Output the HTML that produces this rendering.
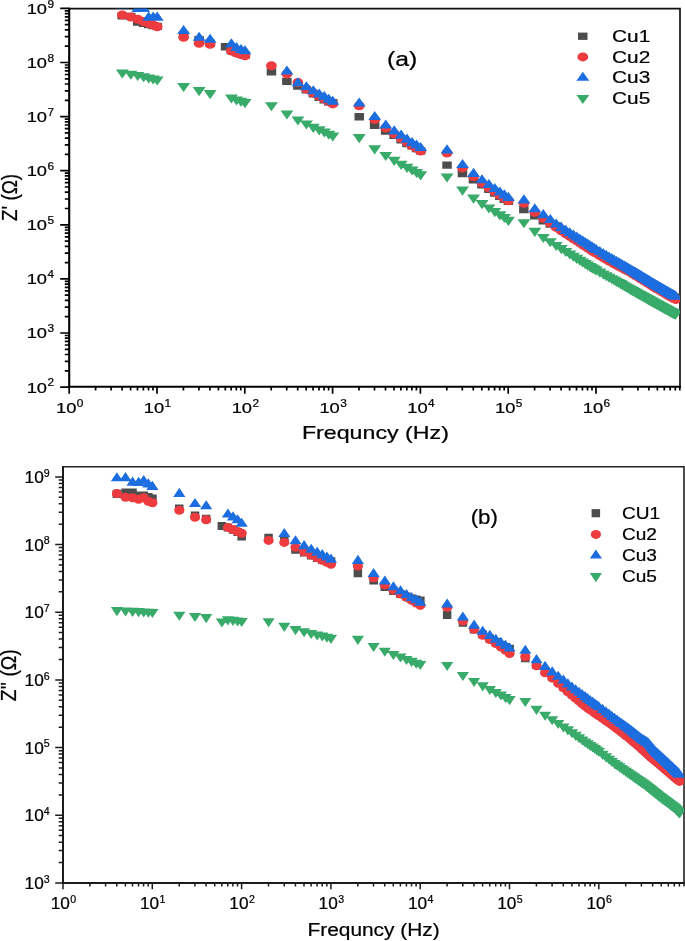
<!DOCTYPE html>
<html><head><meta charset="utf-8"><title>Impedance plots</title>
<style>html,body{margin:0;padding:0;background:#fff}svg{display:block;will-change:transform}text{stroke:#000;stroke-width:0.22px}</style></head>
<body>
<svg width="685" height="941" viewBox="0 0 685 941" font-family="'Liberation Sans', sans-serif" fill="#000">
<rect width="685" height="941" fill="#fff"/>
<defs><clipPath id="ca"><rect x="69.4" y="8.6" width="610.6" height="378.4"/></clipPath><clipPath id="cb"><rect x="63.1" y="466.8" width="620.9" height="416.2"/></clipPath></defs>
<path d="M69.2 8.6H680V386.8" fill="none" stroke="#111" stroke-width="1.7"/>
<g clip-path="url(#ca)">
<path fill="#4d4d4d" d="M117.5 12.2h9.5v7.3h-9.5zM126 12.8h9.5v7.3h-9.5zM133 18.4h9.5v7.3h-9.5zM138.8 19.7h9.5v7.3h-9.5zM143.9 20.9h9.5v7.3h-9.5zM148.4 21.9h9.5v7.3h-9.5zM152.4 22.7h9.5v7.3h-9.5zM178.9 30.9h9.5v7.3h-9.5zM194.3 36h9.5v7.3h-9.5zM205.3 39.4h9.5v7.3h-9.5zM220.8 43.1h9.5v7.3h-9.5zM226.6 46.9h9.5v7.3h-9.5zM231.7 48.9h9.5v7.3h-9.5zM236.2 50.4h9.5v7.3h-9.5zM240.2 51.6h9.5v7.3h-9.5zM266.7 68.3h9.5v7.3h-9.5zM282.1 77.8h9.5v7.3h-9.5zM293.1 82.4h9.5v7.3h-9.5zM301.6 86.3h9.5v7.3h-9.5zM308.6 90.3h9.5v7.3h-9.5zM314.4 93.6h9.5v7.3h-9.5zM319.5 96.3h9.5v7.3h-9.5zM324 98.3h9.5v7.3h-9.5zM328 98.9h9.5v7.3h-9.5zM354.5 113.1h9.5v7.3h-9.5zM369.9 121.6h9.5v7.3h-9.5zM380.9 127.4h9.5v7.3h-9.5zM389.4 131.8h9.5v7.3h-9.5zM396.4 136.2h9.5v7.3h-9.5zM402.2 139.9h9.5v7.3h-9.5zM407.3 142.3h9.5v7.3h-9.5zM411.8 144.9h9.5v7.3h-9.5zM415.9 147.3h9.5v7.3h-9.5zM442.3 161.5h9.5v7.3h-9.5zM457.7 169.9h9.5v7.3h-9.5zM468.7 176.3h9.5v7.3h-9.5zM477.2 181.3h9.5v7.3h-9.5zM484.2 185.8h9.5v7.3h-9.5zM490 189.5h9.5v7.3h-9.5zM495.1 192.8h9.5v7.3h-9.5zM499.6 195.7h9.5v7.3h-9.5zM503.6 197.8h9.5v7.3h-9.5zM519.1 206h9.5v7.3h-9.5zM530.1 212.2h9.5v7.3h-9.5zM538.6 217.1h9.5v7.3h-9.5zM545.5 220.4h9.5v7.3h-9.5zM551.4 222.3h9.5v7.3h-9.5zM556.5 225.7h9.5v7.3h-9.5zM561 228.7h9.5v7.3h-9.5zM565 231.3h9.5v7.3h-9.5zM568.7 233.6h9.5v7.3h-9.5zM572 235.7h9.5v7.3h-9.5zM575 237.7h9.5v7.3h-9.5zM577.8 239.5h9.5v7.3h-9.5zM580.5 241.2h9.5v7.3h-9.5zM582.9 242.9h9.5v7.3h-9.5zM585.3 244.4h9.5v7.3h-9.5zM587.4 245.8h9.5v7.3h-9.5zM589.5 247.1h9.5v7.3h-9.5zM591.4 248.3h9.5v7.3h-9.5zM595.1 250.4h9.5v7.3h-9.5zM598.4 252.4h9.5v7.3h-9.5zM601.5 254.2h9.5v7.3h-9.5zM604.3 255.8h9.5v7.3h-9.5zM606.9 257.2h9.5v7.3h-9.5zM609.4 258.6h9.5v7.3h-9.5zM611.7 259.8h9.5v7.3h-9.5zM613.9 261h9.5v7.3h-9.5zM615.9 262.1h9.5v7.3h-9.5zM617.9 263.1h9.5v7.3h-9.5zM619.7 264.1h9.5v7.3h-9.5zM621.5 265h9.5v7.3h-9.5zM623.2 265.9h9.5v7.3h-9.5zM624.8 266.7h9.5v7.3h-9.5zM626.4 267.7h9.5v7.3h-9.5zM627.9 268.6h9.5v7.3h-9.5zM629.3 269.5h9.5v7.3h-9.5zM630.7 270.3h9.5v7.3h-9.5zM632 271.2h9.5v7.3h-9.5zM633.3 272h9.5v7.3h-9.5zM634.6 272.7h9.5v7.3h-9.5zM635.8 273.5h9.5v7.3h-9.5zM637 274.2h9.5v7.3h-9.5zM638.1 274.9h9.5v7.3h-9.5zM639.2 275.6h9.5v7.3h-9.5zM640.3 276.3h9.5v7.3h-9.5zM641.3 276.9h9.5v7.3h-9.5zM642.4 277.6h9.5v7.3h-9.5zM643.3 278.2h9.5v7.3h-9.5zM644.3 278.8h9.5v7.3h-9.5zM645.3 279.4h9.5v7.3h-9.5zM646.2 279.9h9.5v7.3h-9.5zM647.1 280.5h9.5v7.3h-9.5zM647.9 281h9.5v7.3h-9.5zM648.8 281.6h9.5v7.3h-9.5zM649.6 282.1h9.5v7.3h-9.5zM650.5 282.6h9.5v7.3h-9.5zM651.3 283h9.5v7.3h-9.5zM652 283.5h9.5v7.3h-9.5zM652.8 284h9.5v7.3h-9.5zM653.6 284.4h9.5v7.3h-9.5zM654.3 284.9h9.5v7.3h-9.5zM655 285.3h9.5v7.3h-9.5zM655.8 285.7h9.5v7.3h-9.5zM656.5 286.1h9.5v7.3h-9.5zM657.1 286.5h9.5v7.3h-9.5zM657.8 286.9h9.5v7.3h-9.5zM658.5 287.3h9.5v7.3h-9.5zM659.1 287.7h9.5v7.3h-9.5zM659.8 288.1h9.5v7.3h-9.5zM660.4 288.5h9.5v7.3h-9.5zM661 288.8h9.5v7.3h-9.5zM661.6 289.2h9.5v7.3h-9.5zM662.2 289.6h9.5v7.3h-9.5zM662.8 289.9h9.5v7.3h-9.5zM663.4 290.3h9.5v7.3h-9.5zM664 290.6h9.5v7.3h-9.5zM664.5 290.9h9.5v7.3h-9.5zM665.1 291.3h9.5v7.3h-9.5zM665.6 291.6h9.5v7.3h-9.5zM666.2 291.9h9.5v7.3h-9.5zM666.7 292.2h9.5v7.3h-9.5zM667.2 292.5h9.5v7.3h-9.5zM667.8 292.8h9.5v7.3h-9.5zM668.3 293.1h9.5v7.3h-9.5zM668.8 293.3h9.5v7.3h-9.5zM669.3 293.6h9.5v7.3h-9.5zM669.8 293.9h9.5v7.3h-9.5zM670.3 294.2h9.5v7.3h-9.5zM670.7 294.4h9.5v7.3h-9.5z"/>
<path fill="#ee3b3f" d="M116.9 14.9a5.4 4.5 0 1 0 10.8 0a5.4 4.5 0 1 0 -10.8 0zM125.4 17a5.4 4.5 0 1 0 10.8 0a5.4 4.5 0 1 0 -10.8 0zM132.3 19.3a5.4 4.5 0 1 0 10.8 0a5.4 4.5 0 1 0 -10.8 0zM138.2 21.5a5.4 4.5 0 1 0 10.8 0a5.4 4.5 0 1 0 -10.8 0zM143.3 23.2a5.4 4.5 0 1 0 10.8 0a5.4 4.5 0 1 0 -10.8 0zM147.8 25a5.4 4.5 0 1 0 10.8 0a5.4 4.5 0 1 0 -10.8 0zM151.8 26.7a5.4 4.5 0 1 0 10.8 0a5.4 4.5 0 1 0 -10.8 0zM178.2 37.3a5.4 4.5 0 1 0 10.8 0a5.4 4.5 0 1 0 -10.8 0zM193.7 43.3a5.4 4.5 0 1 0 10.8 0a5.4 4.5 0 1 0 -10.8 0zM204.7 44.3a5.4 4.5 0 1 0 10.8 0a5.4 4.5 0 1 0 -10.8 0zM226 51a5.4 4.5 0 1 0 10.8 0a5.4 4.5 0 1 0 -10.8 0zM231.1 53a5.4 4.5 0 1 0 10.8 0a5.4 4.5 0 1 0 -10.8 0zM235.6 54.5a5.4 4.5 0 1 0 10.8 0a5.4 4.5 0 1 0 -10.8 0zM239.6 55.8a5.4 4.5 0 1 0 10.8 0a5.4 4.5 0 1 0 -10.8 0zM266 65.8a5.4 4.5 0 1 0 10.8 0a5.4 4.5 0 1 0 -10.8 0zM281.5 73.9a5.4 4.5 0 1 0 10.8 0a5.4 4.5 0 1 0 -10.8 0zM292.5 82.5a5.4 4.5 0 1 0 10.8 0a5.4 4.5 0 1 0 -10.8 0zM301 89a5.4 4.5 0 1 0 10.8 0a5.4 4.5 0 1 0 -10.8 0zM307.9 93a5.4 4.5 0 1 0 10.8 0a5.4 4.5 0 1 0 -10.8 0zM313.8 96.3a5.4 4.5 0 1 0 10.8 0a5.4 4.5 0 1 0 -10.8 0zM318.9 99a5.4 4.5 0 1 0 10.8 0a5.4 4.5 0 1 0 -10.8 0zM323.4 101.5a5.4 4.5 0 1 0 10.8 0a5.4 4.5 0 1 0 -10.8 0zM327.4 103.9a5.4 4.5 0 1 0 10.8 0a5.4 4.5 0 1 0 -10.8 0zM353.8 105.7a5.4 4.5 0 1 0 10.8 0a5.4 4.5 0 1 0 -10.8 0zM369.3 119.6a5.4 4.5 0 1 0 10.8 0a5.4 4.5 0 1 0 -10.8 0zM380.3 127.9a5.4 4.5 0 1 0 10.8 0a5.4 4.5 0 1 0 -10.8 0zM388.8 133.8a5.4 4.5 0 1 0 10.8 0a5.4 4.5 0 1 0 -10.8 0zM395.7 138.3a5.4 4.5 0 1 0 10.8 0a5.4 4.5 0 1 0 -10.8 0zM401.6 142.3a5.4 4.5 0 1 0 10.8 0a5.4 4.5 0 1 0 -10.8 0zM406.7 145.7a5.4 4.5 0 1 0 10.8 0a5.4 4.5 0 1 0 -10.8 0zM411.2 148.4a5.4 4.5 0 1 0 10.8 0a5.4 4.5 0 1 0 -10.8 0zM415.2 151a5.4 4.5 0 1 0 10.8 0a5.4 4.5 0 1 0 -10.8 0zM441.6 153a5.4 4.5 0 1 0 10.8 0a5.4 4.5 0 1 0 -10.8 0zM457.1 167.9a5.4 4.5 0 1 0 10.8 0a5.4 4.5 0 1 0 -10.8 0zM468.1 176.6a5.4 4.5 0 1 0 10.8 0a5.4 4.5 0 1 0 -10.8 0zM476.6 183a5.4 4.5 0 1 0 10.8 0a5.4 4.5 0 1 0 -10.8 0zM483.5 187.9a5.4 4.5 0 1 0 10.8 0a5.4 4.5 0 1 0 -10.8 0zM489.4 191.9a5.4 4.5 0 1 0 10.8 0a5.4 4.5 0 1 0 -10.8 0zM494.5 195.3a5.4 4.5 0 1 0 10.8 0a5.4 4.5 0 1 0 -10.8 0zM499 198.3a5.4 4.5 0 1 0 10.8 0a5.4 4.5 0 1 0 -10.8 0zM503 200.8a5.4 4.5 0 1 0 10.8 0a5.4 4.5 0 1 0 -10.8 0zM518.5 203.3a5.4 4.5 0 1 0 10.8 0a5.4 4.5 0 1 0 -10.8 0zM529.4 212.3a5.4 4.5 0 1 0 10.8 0a5.4 4.5 0 1 0 -10.8 0zM537.9 218.2a5.4 4.5 0 1 0 10.8 0a5.4 4.5 0 1 0 -10.8 0zM544.9 223.1a5.4 4.5 0 1 0 10.8 0a5.4 4.5 0 1 0 -10.8 0zM550.8 227.4a5.4 4.5 0 1 0 10.8 0a5.4 4.5 0 1 0 -10.8 0zM555.9 230.9a5.4 4.5 0 1 0 10.8 0a5.4 4.5 0 1 0 -10.8 0zM560.4 233.8a5.4 4.5 0 1 0 10.8 0a5.4 4.5 0 1 0 -10.8 0zM564.4 236.4a5.4 4.5 0 1 0 10.8 0a5.4 4.5 0 1 0 -10.8 0zM568 238.7a5.4 4.5 0 1 0 10.8 0a5.4 4.5 0 1 0 -10.8 0zM571.3 240.8a5.4 4.5 0 1 0 10.8 0a5.4 4.5 0 1 0 -10.8 0zM574.4 242.8a5.4 4.5 0 1 0 10.8 0a5.4 4.5 0 1 0 -10.8 0zM577.2 244.7a5.4 4.5 0 1 0 10.8 0a5.4 4.5 0 1 0 -10.8 0zM579.8 246.4a5.4 4.5 0 1 0 10.8 0a5.4 4.5 0 1 0 -10.8 0zM582.3 248a5.4 4.5 0 1 0 10.8 0a5.4 4.5 0 1 0 -10.8 0zM584.6 249.5a5.4 4.5 0 1 0 10.8 0a5.4 4.5 0 1 0 -10.8 0zM586.8 251a5.4 4.5 0 1 0 10.8 0a5.4 4.5 0 1 0 -10.8 0zM588.8 252.2a5.4 4.5 0 1 0 10.8 0a5.4 4.5 0 1 0 -10.8 0zM590.8 253.4a5.4 4.5 0 1 0 10.8 0a5.4 4.5 0 1 0 -10.8 0zM594.4 255.6a5.4 4.5 0 1 0 10.8 0a5.4 4.5 0 1 0 -10.8 0zM597.8 257.5a5.4 4.5 0 1 0 10.8 0a5.4 4.5 0 1 0 -10.8 0zM600.8 259.4a5.4 4.5 0 1 0 10.8 0a5.4 4.5 0 1 0 -10.8 0zM603.6 261a5.4 4.5 0 1 0 10.8 0a5.4 4.5 0 1 0 -10.8 0zM606.3 262.4a5.4 4.5 0 1 0 10.8 0a5.4 4.5 0 1 0 -10.8 0zM608.7 263.7a5.4 4.5 0 1 0 10.8 0a5.4 4.5 0 1 0 -10.8 0zM611 265a5.4 4.5 0 1 0 10.8 0a5.4 4.5 0 1 0 -10.8 0zM613.2 266.2a5.4 4.5 0 1 0 10.8 0a5.4 4.5 0 1 0 -10.8 0zM615.3 267.3a5.4 4.5 0 1 0 10.8 0a5.4 4.5 0 1 0 -10.8 0zM617.2 268.3a5.4 4.5 0 1 0 10.8 0a5.4 4.5 0 1 0 -10.8 0zM619.1 269.2a5.4 4.5 0 1 0 10.8 0a5.4 4.5 0 1 0 -10.8 0zM620.9 270.2a5.4 4.5 0 1 0 10.8 0a5.4 4.5 0 1 0 -10.8 0zM622.6 271a5.4 4.5 0 1 0 10.8 0a5.4 4.5 0 1 0 -10.8 0zM624.2 271.9a5.4 4.5 0 1 0 10.8 0a5.4 4.5 0 1 0 -10.8 0zM625.7 272.8a5.4 4.5 0 1 0 10.8 0a5.4 4.5 0 1 0 -10.8 0zM627.2 273.7a5.4 4.5 0 1 0 10.8 0a5.4 4.5 0 1 0 -10.8 0zM628.7 274.6a5.4 4.5 0 1 0 10.8 0a5.4 4.5 0 1 0 -10.8 0zM630.1 275.5a5.4 4.5 0 1 0 10.8 0a5.4 4.5 0 1 0 -10.8 0zM631.4 276.3a5.4 4.5 0 1 0 10.8 0a5.4 4.5 0 1 0 -10.8 0zM632.7 277.1a5.4 4.5 0 1 0 10.8 0a5.4 4.5 0 1 0 -10.8 0zM633.9 277.9a5.4 4.5 0 1 0 10.8 0a5.4 4.5 0 1 0 -10.8 0zM635.2 278.7a5.4 4.5 0 1 0 10.8 0a5.4 4.5 0 1 0 -10.8 0zM636.3 279.4a5.4 4.5 0 1 0 10.8 0a5.4 4.5 0 1 0 -10.8 0zM637.5 280.1a5.4 4.5 0 1 0 10.8 0a5.4 4.5 0 1 0 -10.8 0zM638.6 280.8a5.4 4.5 0 1 0 10.8 0a5.4 4.5 0 1 0 -10.8 0zM639.6 281.4a5.4 4.5 0 1 0 10.8 0a5.4 4.5 0 1 0 -10.8 0zM640.7 282.1a5.4 4.5 0 1 0 10.8 0a5.4 4.5 0 1 0 -10.8 0zM641.7 282.7a5.4 4.5 0 1 0 10.8 0a5.4 4.5 0 1 0 -10.8 0zM642.7 283.3a5.4 4.5 0 1 0 10.8 0a5.4 4.5 0 1 0 -10.8 0zM643.7 283.9a5.4 4.5 0 1 0 10.8 0a5.4 4.5 0 1 0 -10.8 0zM644.6 284.5a5.4 4.5 0 1 0 10.8 0a5.4 4.5 0 1 0 -10.8 0zM645.5 285.1a5.4 4.5 0 1 0 10.8 0a5.4 4.5 0 1 0 -10.8 0zM646.4 285.6a5.4 4.5 0 1 0 10.8 0a5.4 4.5 0 1 0 -10.8 0zM647.3 286.2a5.4 4.5 0 1 0 10.8 0a5.4 4.5 0 1 0 -10.8 0zM648.2 286.7a5.4 4.5 0 1 0 10.8 0a5.4 4.5 0 1 0 -10.8 0zM649 287.2a5.4 4.5 0 1 0 10.8 0a5.4 4.5 0 1 0 -10.8 0zM649.8 287.7a5.4 4.5 0 1 0 10.8 0a5.4 4.5 0 1 0 -10.8 0zM650.6 288.2a5.4 4.5 0 1 0 10.8 0a5.4 4.5 0 1 0 -10.8 0zM651.4 288.7a5.4 4.5 0 1 0 10.8 0a5.4 4.5 0 1 0 -10.8 0zM652.2 289.1a5.4 4.5 0 1 0 10.8 0a5.4 4.5 0 1 0 -10.8 0zM652.9 289.6a5.4 4.5 0 1 0 10.8 0a5.4 4.5 0 1 0 -10.8 0zM653.7 290a5.4 4.5 0 1 0 10.8 0a5.4 4.5 0 1 0 -10.8 0zM654.4 290.4a5.4 4.5 0 1 0 10.8 0a5.4 4.5 0 1 0 -10.8 0zM655.1 290.9a5.4 4.5 0 1 0 10.8 0a5.4 4.5 0 1 0 -10.8 0zM655.8 291.3a5.4 4.5 0 1 0 10.8 0a5.4 4.5 0 1 0 -10.8 0zM656.5 291.7a5.4 4.5 0 1 0 10.8 0a5.4 4.5 0 1 0 -10.8 0zM657.2 292.1a5.4 4.5 0 1 0 10.8 0a5.4 4.5 0 1 0 -10.8 0zM657.8 292.5a5.4 4.5 0 1 0 10.8 0a5.4 4.5 0 1 0 -10.8 0zM658.5 292.9a5.4 4.5 0 1 0 10.8 0a5.4 4.5 0 1 0 -10.8 0zM659.1 293.2a5.4 4.5 0 1 0 10.8 0a5.4 4.5 0 1 0 -10.8 0zM659.8 293.6a5.4 4.5 0 1 0 10.8 0a5.4 4.5 0 1 0 -10.8 0zM660.4 294a5.4 4.5 0 1 0 10.8 0a5.4 4.5 0 1 0 -10.8 0zM661 294.4a5.4 4.5 0 1 0 10.8 0a5.4 4.5 0 1 0 -10.8 0zM661.6 294.7a5.4 4.5 0 1 0 10.8 0a5.4 4.5 0 1 0 -10.8 0zM662.2 295.1a5.4 4.5 0 1 0 10.8 0a5.4 4.5 0 1 0 -10.8 0zM662.8 295.4a5.4 4.5 0 1 0 10.8 0a5.4 4.5 0 1 0 -10.8 0zM663.3 295.7a5.4 4.5 0 1 0 10.8 0a5.4 4.5 0 1 0 -10.8 0zM663.9 296.1a5.4 4.5 0 1 0 10.8 0a5.4 4.5 0 1 0 -10.8 0zM664.5 296.4a5.4 4.5 0 1 0 10.8 0a5.4 4.5 0 1 0 -10.8 0zM665 296.7a5.4 4.5 0 1 0 10.8 0a5.4 4.5 0 1 0 -10.8 0zM665.5 297a5.4 4.5 0 1 0 10.8 0a5.4 4.5 0 1 0 -10.8 0zM666.1 297.3a5.4 4.5 0 1 0 10.8 0a5.4 4.5 0 1 0 -10.8 0zM666.6 297.6a5.4 4.5 0 1 0 10.8 0a5.4 4.5 0 1 0 -10.8 0zM667.1 297.9a5.4 4.5 0 1 0 10.8 0a5.4 4.5 0 1 0 -10.8 0zM667.6 298.2a5.4 4.5 0 1 0 10.8 0a5.4 4.5 0 1 0 -10.8 0zM668.1 298.5a5.4 4.5 0 1 0 10.8 0a5.4 4.5 0 1 0 -10.8 0zM668.6 298.8a5.4 4.5 0 1 0 10.8 0a5.4 4.5 0 1 0 -10.8 0zM669.1 299.1a5.4 4.5 0 1 0 10.8 0a5.4 4.5 0 1 0 -10.8 0zM669.6 299.3a5.4 4.5 0 1 0 10.8 0a5.4 4.5 0 1 0 -10.8 0zM670.1 299.6a5.4 4.5 0 1 0 10.8 0a5.4 4.5 0 1 0 -10.8 0z"/>
<path fill="#1c6ee0" d="M122.3 -0.6l6.5 9.1h-12.9zM130.8 -34.5l6.5 9.1h-12.9zM137.7 3l6.5 9.1h-12.9zM143.6 3l6.5 9.1h-12.9zM148.7 11.6l6.5 9.1h-12.9zM153.2 11.6l6.5 9.1h-12.9zM157.2 11.6l6.5 9.1h-12.9zM183.6 24.9l6.5 9.1h-12.9zM199.1 31.7l6.5 9.1h-12.9zM210.1 33.7l6.5 9.1h-12.9zM231.4 38.2l6.5 9.1h-12.9zM236.5 42l6.5 9.1h-12.9zM241 44l6.5 9.1h-12.9zM245 45.2l6.5 9.1h-12.9zM286.9 65.5l6.5 9.1h-12.9zM297.9 77.2l6.5 9.1h-12.9zM306.4 81.2l6.5 9.1h-12.9zM313.3 85.2l6.5 9.1h-12.9zM319.2 88.5l6.5 9.1h-12.9zM324.3 91l6.5 9.1h-12.9zM328.8 93.7l6.5 9.1h-12.9zM332.8 95.7l6.5 9.1h-12.9zM359.2 97.5l6.5 9.1h-12.9zM374.7 111l6.5 9.1h-12.9zM385.7 119.5l6.5 9.1h-12.9zM394.2 125.3l6.5 9.1h-12.9zM401.1 129.6l6.5 9.1h-12.9zM407 133.6l6.5 9.1h-12.9zM412.1 136.9l6.5 9.1h-12.9zM416.6 139.5l6.5 9.1h-12.9zM420.6 141.9l6.5 9.1h-12.9zM447 144.3l6.5 9.1h-12.9zM462.5 158.9l6.5 9.1h-12.9zM473.5 167.8l6.5 9.1h-12.9zM482 174.2l6.5 9.1h-12.9zM488.9 179l6.5 9.1h-12.9zM494.8 183l6.5 9.1h-12.9zM499.9 186.4l6.5 9.1h-12.9zM504.4 189.3l6.5 9.1h-12.9zM508.4 191.8l6.5 9.1h-12.9zM523.9 194.3l6.5 9.1h-12.9zM534.8 203.2l6.5 9.1h-12.9zM543.3 209.1l6.5 9.1h-12.9zM550.3 214l6.5 9.1h-12.9zM556.2 218.4l6.5 9.1h-12.9zM561.3 221.8l6.5 9.1h-12.9zM565.8 224.8l6.5 9.1h-12.9zM569.8 227.2l6.5 9.1h-12.9zM573.4 229.5l6.5 9.1h-12.9zM576.7 231.5l6.5 9.1h-12.9zM579.8 233.4l6.5 9.1h-12.9zM582.6 235.3l6.5 9.1h-12.9zM585.2 236.9l6.5 9.1h-12.9zM587.7 238.5l6.5 9.1h-12.9zM590 240l6.5 9.1h-12.9zM592.2 241.4l6.5 9.1h-12.9zM594.2 242.7l6.5 9.1h-12.9zM596.2 243.9l6.5 9.1h-12.9zM599.8 246l6.5 9.1h-12.9zM603.2 248l6.5 9.1h-12.9zM606.2 249.8l6.5 9.1h-12.9zM609 251.5l6.5 9.1h-12.9zM611.7 253l6.5 9.1h-12.9zM614.1 254.4l6.5 9.1h-12.9zM616.4 255.8l6.5 9.1h-12.9zM618.6 257l6.5 9.1h-12.9zM620.7 258.2l6.5 9.1h-12.9zM622.6 259.4l6.5 9.1h-12.9zM624.5 260.5l6.5 9.1h-12.9zM626.3 261.5l6.5 9.1h-12.9zM628 262.5l6.5 9.1h-12.9zM629.6 263.5l6.5 9.1h-12.9zM631.1 264.4l6.5 9.1h-12.9zM632.6 265.3l6.5 9.1h-12.9zM634.1 266.2l6.5 9.1h-12.9zM635.5 267l6.5 9.1h-12.9zM636.8 267.9l6.5 9.1h-12.9zM638.1 268.6l6.5 9.1h-12.9zM639.3 269.4l6.5 9.1h-12.9zM640.6 270.1l6.5 9.1h-12.9zM641.7 270.8l6.5 9.1h-12.9zM642.9 271.5l6.5 9.1h-12.9zM644 272.2l6.5 9.1h-12.9zM645 272.8l6.5 9.1h-12.9zM646.1 273.5l6.5 9.1h-12.9zM647.1 274.1l6.5 9.1h-12.9zM648.1 274.7l6.5 9.1h-12.9zM649.1 275.3l6.5 9.1h-12.9zM650 275.8l6.5 9.1h-12.9zM650.9 276.4l6.5 9.1h-12.9zM651.8 276.9l6.5 9.1h-12.9zM652.7 277.5l6.5 9.1h-12.9zM653.6 278l6.5 9.1h-12.9zM654.4 278.5l6.5 9.1h-12.9zM655.2 279l6.5 9.1h-12.9zM656 279.4l6.5 9.1h-12.9zM656.8 279.9l6.5 9.1h-12.9zM657.6 280.3l6.5 9.1h-12.9zM658.3 280.8l6.5 9.1h-12.9zM659.1 281.2l6.5 9.1h-12.9zM659.8 281.7l6.5 9.1h-12.9zM660.5 282.1l6.5 9.1h-12.9zM661.2 282.5l6.5 9.1h-12.9zM661.9 282.9l6.5 9.1h-12.9zM662.6 283.3l6.5 9.1h-12.9zM663.2 283.7l6.5 9.1h-12.9zM663.9 284.1l6.5 9.1h-12.9zM664.5 284.4l6.5 9.1h-12.9zM665.2 284.8l6.5 9.1h-12.9zM665.8 285.2l6.5 9.1h-12.9zM666.4 285.5l6.5 9.1h-12.9zM667 285.9l6.5 9.1h-12.9zM667.6 286.2l6.5 9.1h-12.9zM668.2 286.6l6.5 9.1h-12.9zM668.7 286.9l6.5 9.1h-12.9zM669.3 287.2l6.5 9.1h-12.9zM669.9 287.6l6.5 9.1h-12.9zM670.4 287.9l6.5 9.1h-12.9zM670.9 288.2l6.5 9.1h-12.9zM671.5 288.5l6.5 9.1h-12.9zM672 288.7l6.5 9.1h-12.9zM672.5 289l6.5 9.1h-12.9zM673 289.3l6.5 9.1h-12.9zM673.5 289.6l6.5 9.1h-12.9zM674 289.9l6.5 9.1h-12.9zM674.5 290.1l6.5 9.1h-12.9zM675 290.4l6.5 9.1h-12.9zM675.5 290.6l6.5 9.1h-12.9z"/>
<path fill="#38aa6a" d="M122.3 78.5l6.5 -9.1h-12.9zM130.8 79.8l6.5 -9.1h-12.9zM137.7 81.1l6.5 -9.1h-12.9zM143.6 82.3l6.5 -9.1h-12.9zM148.7 83.5l6.5 -9.1h-12.9zM153.2 84.5l6.5 -9.1h-12.9zM157.2 85.5l6.5 -9.1h-12.9zM183.6 92.1l6.5 -9.1h-12.9zM199.1 96.2l6.5 -9.1h-12.9zM210.1 99.2l6.5 -9.1h-12.9zM231.4 103.6l6.5 -9.1h-12.9zM236.5 105.5l6.5 -9.1h-12.9zM241 106.8l6.5 -9.1h-12.9zM245 108.2l6.5 -9.1h-12.9zM271.4 111.3l6.5 -9.1h-12.9zM286.9 119.6l6.5 -9.1h-12.9zM297.9 125.5l6.5 -9.1h-12.9zM306.4 129.6l6.5 -9.1h-12.9zM313.3 132.9l6.5 -9.1h-12.9zM319.2 135.4l6.5 -9.1h-12.9zM324.3 137.6l6.5 -9.1h-12.9zM328.8 139.8l6.5 -9.1h-12.9zM332.8 141.6l6.5 -9.1h-12.9zM359.2 143.2l6.5 -9.1h-12.9zM374.7 154.4l6.5 -9.1h-12.9zM385.7 161.1l6.5 -9.1h-12.9zM394.2 165.9l6.5 -9.1h-12.9zM401.1 169.9l6.5 -9.1h-12.9zM407 172.9l6.5 -9.1h-12.9zM412.1 175.6l6.5 -9.1h-12.9zM416.6 178l6.5 -9.1h-12.9zM420.6 180.4l6.5 -9.1h-12.9zM447 182.5l6.5 -9.1h-12.9zM462.5 195.7l6.5 -9.1h-12.9zM473.5 203.7l6.5 -9.1h-12.9zM482 209.2l6.5 -9.1h-12.9zM488.9 213.6l6.5 -9.1h-12.9zM494.8 217.2l6.5 -9.1h-12.9zM499.9 220.4l6.5 -9.1h-12.9zM504.4 223.1l6.5 -9.1h-12.9zM508.4 225.9l6.5 -9.1h-12.9zM523.9 228.3l6.5 -9.1h-12.9zM534.8 236.9l6.5 -9.1h-12.9zM543.3 243l6.5 -9.1h-12.9zM550.3 247.3l6.5 -9.1h-12.9zM556.2 251l6.5 -9.1h-12.9zM561.3 254.2l6.5 -9.1h-12.9zM565.8 257.1l6.5 -9.1h-12.9zM569.8 259.6l6.5 -9.1h-12.9zM573.4 261.8l6.5 -9.1h-12.9zM576.7 263.9l6.5 -9.1h-12.9zM579.8 265.8l6.5 -9.1h-12.9zM582.6 267.5l6.5 -9.1h-12.9zM585.2 269.2l6.5 -9.1h-12.9zM587.7 270.7l6.5 -9.1h-12.9zM590 272.1l6.5 -9.1h-12.9zM592.2 273.4l6.5 -9.1h-12.9zM594.2 274.6l6.5 -9.1h-12.9zM596.2 275.7l6.5 -9.1h-12.9zM599.8 277.7l6.5 -9.1h-12.9zM603.2 279.6l6.5 -9.1h-12.9zM606.2 281.3l6.5 -9.1h-12.9zM609 282.8l6.5 -9.1h-12.9zM611.7 284.3l6.5 -9.1h-12.9zM614.1 285.6l6.5 -9.1h-12.9zM616.4 286.9l6.5 -9.1h-12.9zM618.6 288.1l6.5 -9.1h-12.9zM620.7 289.2l6.5 -9.1h-12.9zM622.6 290.4l6.5 -9.1h-12.9zM624.5 291.5l6.5 -9.1h-12.9zM626.3 292.5l6.5 -9.1h-12.9zM628 293.5l6.5 -9.1h-12.9zM629.6 294.5l6.5 -9.1h-12.9zM631.1 295.4l6.5 -9.1h-12.9zM632.6 296.2l6.5 -9.1h-12.9zM634.1 297l6.5 -9.1h-12.9zM635.5 297.8l6.5 -9.1h-12.9zM636.8 298.5l6.5 -9.1h-12.9zM638.1 299.3l6.5 -9.1h-12.9zM639.3 300l6.5 -9.1h-12.9zM640.6 300.6l6.5 -9.1h-12.9zM641.7 301.3l6.5 -9.1h-12.9zM642.9 301.9l6.5 -9.1h-12.9zM644 302.5l6.5 -9.1h-12.9zM645 303.1l6.5 -9.1h-12.9zM646.1 303.7l6.5 -9.1h-12.9zM647.1 304.3l6.5 -9.1h-12.9zM648.1 304.9l6.5 -9.1h-12.9zM649.1 305.4l6.5 -9.1h-12.9zM650 305.9l6.5 -9.1h-12.9zM650.9 306.4l6.5 -9.1h-12.9zM651.8 306.9l6.5 -9.1h-12.9zM652.7 307.4l6.5 -9.1h-12.9zM653.6 307.9l6.5 -9.1h-12.9zM654.4 308.4l6.5 -9.1h-12.9zM655.2 308.8l6.5 -9.1h-12.9zM656 309.2l6.5 -9.1h-12.9zM656.8 309.7l6.5 -9.1h-12.9zM657.6 310.1l6.5 -9.1h-12.9zM658.3 310.5l6.5 -9.1h-12.9zM659.1 310.9l6.5 -9.1h-12.9zM659.8 311.3l6.5 -9.1h-12.9zM660.5 311.7l6.5 -9.1h-12.9zM661.2 312.1l6.5 -9.1h-12.9zM661.9 312.4l6.5 -9.1h-12.9zM662.6 312.8l6.5 -9.1h-12.9zM663.2 313.2l6.5 -9.1h-12.9zM663.9 313.5l6.5 -9.1h-12.9zM664.5 313.9l6.5 -9.1h-12.9zM665.2 314.2l6.5 -9.1h-12.9zM665.8 314.6l6.5 -9.1h-12.9zM666.4 314.9l6.5 -9.1h-12.9zM667 315.2l6.5 -9.1h-12.9zM667.6 315.5l6.5 -9.1h-12.9zM668.2 315.9l6.5 -9.1h-12.9zM668.7 316.2l6.5 -9.1h-12.9zM669.3 316.5l6.5 -9.1h-12.9zM669.9 316.8l6.5 -9.1h-12.9zM670.4 317.1l6.5 -9.1h-12.9zM670.9 317.4l6.5 -9.1h-12.9zM671.5 317.7l6.5 -9.1h-12.9zM672 317.9l6.5 -9.1h-12.9zM672.5 318.2l6.5 -9.1h-12.9zM673 318.5l6.5 -9.1h-12.9zM673.5 318.8l6.5 -9.1h-12.9zM674 319.1l6.5 -9.1h-12.9zM674.5 319.3l6.5 -9.1h-12.9zM675 319.6l6.5 -9.1h-12.9zM675.5 319.8l6.5 -9.1h-12.9z"/>
</g>
<path d="M69.2 7.8V386.8H681" fill="none" stroke="#000" stroke-width="2.1"/>
<path d="M69.2 387.1h-9M69.2 370.8h-4.4M69.2 361.3h-4.4M69.2 354.5h-4.4M69.2 349.3h-4.4M69.2 345h-4.4M69.2 341.4h-4.4M69.2 338.2h-4.4M69.2 335.5h-4.4M69.2 333h-9M69.2 316.7h-4.4M69.2 307.2h-4.4M69.2 300.4h-4.4M69.2 295.2h-4.4M69.2 290.9h-4.4M69.2 287.3h-4.4M69.2 284.1h-4.4M69.2 281.4h-4.4M69.2 278.9h-9M69.2 262.6h-4.4M69.2 253.1h-4.4M69.2 246.3h-4.4M69.2 241.1h-4.4M69.2 236.8h-4.4M69.2 233.2h-4.4M69.2 230h-4.4M69.2 227.3h-4.4M69.2 224.8h-9M69.2 208.5h-4.4M69.2 199h-4.4M69.2 192.2h-4.4M69.2 187h-4.4M69.2 182.7h-4.4M69.2 179.1h-4.4M69.2 175.9h-4.4M69.2 173.2h-4.4M69.2 170.7h-9M69.2 154.4h-4.4M69.2 144.9h-4.4M69.2 138.1h-4.4M69.2 132.9h-4.4M69.2 128.6h-4.4M69.2 125h-4.4M69.2 121.8h-4.4M69.2 119.1h-4.4M69.2 116.6h-9M69.2 100.3h-4.4M69.2 90.8h-4.4M69.2 84h-4.4M69.2 78.8h-4.4M69.2 74.5h-4.4M69.2 70.9h-4.4M69.2 67.7h-4.4M69.2 65h-4.4M69.2 62.5h-9M69.2 46.2h-4.4M69.2 36.7h-4.4M69.2 29.9h-4.4M69.2 24.7h-4.4M69.2 20.4h-4.4M69.2 16.8h-4.4M69.2 13.6h-4.4M69.2 10.9h-4.4M69.2 8.4h-9M69.2 386.8v7M95.6 386.8v3.6M111.1 386.8v3.6M122.1 386.8v3.6M130.6 386.8v3.6M137.5 386.8v3.6M143.4 386.8v3.6M148.5 386.8v3.6M153 386.8v3.6M157 386.8v7M183.4 386.8v3.6M198.9 386.8v3.6M209.9 386.8v3.6M218.4 386.8v3.6M225.3 386.8v3.6M231.2 386.8v3.6M236.3 386.8v3.6M240.8 386.8v3.6M244.8 386.8v7M271.2 386.8v3.6M286.7 386.8v3.6M297.7 386.8v3.6M306.2 386.8v3.6M313.1 386.8v3.6M319 386.8v3.6M324.1 386.8v3.6M328.6 386.8v3.6M332.6 386.8v7M359 386.8v3.6M374.5 386.8v3.6M385.5 386.8v3.6M394 386.8v3.6M400.9 386.8v3.6M406.8 386.8v3.6M411.9 386.8v3.6M416.4 386.8v3.6M420.4 386.8v7M446.8 386.8v3.6M462.3 386.8v3.6M473.3 386.8v3.6M481.8 386.8v3.6M488.7 386.8v3.6M494.6 386.8v3.6M499.7 386.8v3.6M504.2 386.8v3.6M508.2 386.8v7M534.6 386.8v3.6M550.1 386.8v3.6M561.1 386.8v3.6M569.6 386.8v3.6M576.5 386.8v3.6M582.4 386.8v3.6M587.5 386.8v3.6M592 386.8v3.6M596 386.8v7M622.4 386.8v3.6M637.9 386.8v3.6M648.9 386.8v3.6M657.4 386.8v3.6M664.3 386.8v3.6M670.2 386.8v3.6M675.3 386.8v3.6M679.8 386.8v3.6" fill="none" stroke="#000" stroke-width="1.7"/>
<path d="M63 466.8H684V882.9" fill="none" stroke="#222" stroke-width="1.6"/>
<g clip-path="url(#cb)">
<path fill="#4d4d4d" d="M112.6 489.7h8.5v8.2h-8.5zM121.3 488.5h8.5v8.2h-8.5zM128.3 488.5h8.5v8.2h-8.5zM134.3 491.6h8.5v8.2h-8.5zM139.5 491.6h8.5v8.2h-8.5zM144.1 492.9h8.5v8.2h-8.5zM148.2 494.6h8.5v8.2h-8.5zM175 504.5h8.5v8.2h-8.5zM190.8 511.5h8.5v8.2h-8.5zM201.9 514.7h8.5v8.2h-8.5zM217.6 521.9h8.5v8.2h-8.5zM223.6 523.4h8.5v8.2h-8.5zM228.8 525.5h8.5v8.2h-8.5zM233.4 527.9h8.5v8.2h-8.5zM237.4 532.4h8.5v8.2h-8.5zM264.3 533.8h8.5v8.2h-8.5zM280.1 535.9h8.5v8.2h-8.5zM291.2 545.6h8.5v8.2h-8.5zM299.9 548.4h8.5v8.2h-8.5zM306.9 551.4h8.5v8.2h-8.5zM312.9 553.9h8.5v8.2h-8.5zM318.1 555.9h8.5v8.2h-8.5zM322.7 556.9h8.5v8.2h-8.5zM326.8 557.2h8.5v8.2h-8.5zM353.6 569h8.5v8.2h-8.5zM369.4 576.3h8.5v8.2h-8.5zM380.5 582.9h8.5v8.2h-8.5zM389.2 586.9h8.5v8.2h-8.5zM396.2 589.9h8.5v8.2h-8.5zM402.2 592.4h8.5v8.2h-8.5zM407.4 594.4h8.5v8.2h-8.5zM412 595.4h8.5v8.2h-8.5zM416.1 596.4h8.5v8.2h-8.5zM442.9 610.8h8.5v8.2h-8.5zM458.7 618.5h8.5v8.2h-8.5zM469.8 625.4h8.5v8.2h-8.5zM478.5 630.4h8.5v8.2h-8.5zM485.5 634.4h8.5v8.2h-8.5zM491.5 637.9h8.5v8.2h-8.5zM496.7 640.9h8.5v8.2h-8.5zM501.3 643.1h8.5v8.2h-8.5zM505.4 644.7h8.5v8.2h-8.5zM521.1 654h8.5v8.2h-8.5zM532.2 660.9h8.5v8.2h-8.5zM540.9 667.1h8.5v8.2h-8.5zM548 672.5h8.5v8.2h-8.5zM553.9 677.7h8.5v8.2h-8.5zM559.1 682.3h8.5v8.2h-8.5zM563.7 686.3h8.5v8.2h-8.5zM567.8 689.7h8.5v8.2h-8.5zM571.5 692.7h8.5v8.2h-8.5zM574.8 695.5h8.5v8.2h-8.5zM577.9 698.1h8.5v8.2h-8.5zM580.8 700.4h8.5v8.2h-8.5zM583.5 702.4h8.5v8.2h-8.5zM586 704.1h8.5v8.2h-8.5zM588.3 705.8h8.5v8.2h-8.5zM590.6 707.4h8.5v8.2h-8.5zM592.7 708.9h8.5v8.2h-8.5zM594.6 710.3h8.5v8.2h-8.5zM598.3 712.8h8.5v8.2h-8.5zM601.7 715.1h8.5v8.2h-8.5zM604.8 717.3h8.5v8.2h-8.5zM607.7 719.3h8.5v8.2h-8.5zM610.4 721.3h8.5v8.2h-8.5zM612.9 723.2h8.5v8.2h-8.5zM615.2 725h8.5v8.2h-8.5zM617.4 726.7h8.5v8.2h-8.5zM619.5 728.3h8.5v8.2h-8.5zM621.5 729.9h8.5v8.2h-8.5zM623.4 731.3h8.5v8.2h-8.5zM625.2 732.7h8.5v8.2h-8.5zM627 734.2h8.5v8.2h-8.5zM628.6 735.6h8.5v8.2h-8.5zM630.2 736.9h8.5v8.2h-8.5zM631.7 738.2h8.5v8.2h-8.5zM633.2 739.4h8.5v8.2h-8.5zM634.6 740.6h8.5v8.2h-8.5zM635.9 741.8h8.5v8.2h-8.5zM637.3 743h8.5v8.2h-8.5zM638.5 744.2h8.5v8.2h-8.5zM639.8 745.3h8.5v8.2h-8.5zM641 746.5h8.5v8.2h-8.5zM642.1 747.5h8.5v8.2h-8.5zM643.2 748.5h8.5v8.2h-8.5zM644.3 749.5h8.5v8.2h-8.5zM645.4 750.5h8.5v8.2h-8.5zM646.4 751.4h8.5v8.2h-8.5zM647.4 752.3h8.5v8.2h-8.5zM648.4 753.1h8.5v8.2h-8.5zM649.4 753.9h8.5v8.2h-8.5zM650.3 754.7h8.5v8.2h-8.5zM651.2 755.4h8.5v8.2h-8.5zM652.1 756.1h8.5v8.2h-8.5zM653 756.8h8.5v8.2h-8.5zM653.8 757.5h8.5v8.2h-8.5zM654.7 758.2h8.5v8.2h-8.5zM655.5 758.9h8.5v8.2h-8.5zM656.3 759.6h8.5v8.2h-8.5zM657.1 760.2h8.5v8.2h-8.5zM657.8 760.9h8.5v8.2h-8.5zM658.6 761.5h8.5v8.2h-8.5zM659.3 762.2h8.5v8.2h-8.5zM660.1 762.8h8.5v8.2h-8.5zM660.8 763.4h8.5v8.2h-8.5zM661.5 764h8.5v8.2h-8.5zM662.1 764.6h8.5v8.2h-8.5zM662.8 765.1h8.5v8.2h-8.5zM663.5 765.7h8.5v8.2h-8.5zM664.1 766.3h8.5v8.2h-8.5zM664.8 766.8h8.5v8.2h-8.5zM665.4 767.3h8.5v8.2h-8.5zM666 767.9h8.5v8.2h-8.5zM666.6 768.4h8.5v8.2h-8.5zM667.2 768.9h8.5v8.2h-8.5zM667.8 769.4h8.5v8.2h-8.5zM668.4 769.9h8.5v8.2h-8.5zM669 770.4h8.5v8.2h-8.5zM669.6 770.9h8.5v8.2h-8.5zM670.1 771.4h8.5v8.2h-8.5zM670.7 771.8h8.5v8.2h-8.5zM671.2 772.3h8.5v8.2h-8.5zM671.7 772.7h8.5v8.2h-8.5zM672.3 773.2h8.5v8.2h-8.5zM672.8 773.6h8.5v8.2h-8.5zM673.3 774.1h8.5v8.2h-8.5zM673.8 774.5h8.5v8.2h-8.5zM674.3 774.9h8.5v8.2h-8.5zM674.8 775.3h8.5v8.2h-8.5zM675.3 775.8h8.5v8.2h-8.5z"/>
<path fill="#ee3b3f" d="M111.8 493.6a5.1 4.5 0 1 0 10.2 0a5.1 4.5 0 1 0 -10.2 0zM120.4 497.2a5.1 4.5 0 1 0 10.2 0a5.1 4.5 0 1 0 -10.2 0zM127.5 497.7a5.1 4.5 0 1 0 10.2 0a5.1 4.5 0 1 0 -10.2 0zM133.5 499.2a5.1 4.5 0 1 0 10.2 0a5.1 4.5 0 1 0 -10.2 0zM138.6 497.7a5.1 4.5 0 1 0 10.2 0a5.1 4.5 0 1 0 -10.2 0zM143.2 501.3a5.1 4.5 0 1 0 10.2 0a5.1 4.5 0 1 0 -10.2 0zM147.3 502.8a5.1 4.5 0 1 0 10.2 0a5.1 4.5 0 1 0 -10.2 0zM174.2 510.2a5.1 4.5 0 1 0 10.2 0a5.1 4.5 0 1 0 -10.2 0zM189.9 517.2a5.1 4.5 0 1 0 10.2 0a5.1 4.5 0 1 0 -10.2 0zM201.1 519.7a5.1 4.5 0 1 0 10.2 0a5.1 4.5 0 1 0 -10.2 0zM222.8 527.4a5.1 4.5 0 1 0 10.2 0a5.1 4.5 0 1 0 -10.2 0zM227.9 529.5a5.1 4.5 0 1 0 10.2 0a5.1 4.5 0 1 0 -10.2 0zM232.5 531.5a5.1 4.5 0 1 0 10.2 0a5.1 4.5 0 1 0 -10.2 0zM236.6 533.3a5.1 4.5 0 1 0 10.2 0a5.1 4.5 0 1 0 -10.2 0zM263.5 540.4a5.1 4.5 0 1 0 10.2 0a5.1 4.5 0 1 0 -10.2 0zM279.2 542.4a5.1 4.5 0 1 0 10.2 0a5.1 4.5 0 1 0 -10.2 0zM290.4 547.2a5.1 4.5 0 1 0 10.2 0a5.1 4.5 0 1 0 -10.2 0zM299 551.8a5.1 4.5 0 1 0 10.2 0a5.1 4.5 0 1 0 -10.2 0zM306.1 555a5.1 4.5 0 1 0 10.2 0a5.1 4.5 0 1 0 -10.2 0zM312.1 557.8a5.1 4.5 0 1 0 10.2 0a5.1 4.5 0 1 0 -10.2 0zM317.2 560.2a5.1 4.5 0 1 0 10.2 0a5.1 4.5 0 1 0 -10.2 0zM321.8 562.3a5.1 4.5 0 1 0 10.2 0a5.1 4.5 0 1 0 -10.2 0zM325.9 564.2a5.1 4.5 0 1 0 10.2 0a5.1 4.5 0 1 0 -10.2 0zM352.8 566a5.1 4.5 0 1 0 10.2 0a5.1 4.5 0 1 0 -10.2 0zM368.5 577.7a5.1 4.5 0 1 0 10.2 0a5.1 4.5 0 1 0 -10.2 0zM379.7 585a5.1 4.5 0 1 0 10.2 0a5.1 4.5 0 1 0 -10.2 0zM388.3 590a5.1 4.5 0 1 0 10.2 0a5.1 4.5 0 1 0 -10.2 0zM395.4 594a5.1 4.5 0 1 0 10.2 0a5.1 4.5 0 1 0 -10.2 0zM401.4 597.4a5.1 4.5 0 1 0 10.2 0a5.1 4.5 0 1 0 -10.2 0zM406.5 600.4a5.1 4.5 0 1 0 10.2 0a5.1 4.5 0 1 0 -10.2 0zM411.1 603a5.1 4.5 0 1 0 10.2 0a5.1 4.5 0 1 0 -10.2 0zM415.2 605.4a5.1 4.5 0 1 0 10.2 0a5.1 4.5 0 1 0 -10.2 0zM442.1 607.4a5.1 4.5 0 1 0 10.2 0a5.1 4.5 0 1 0 -10.2 0zM457.8 621a5.1 4.5 0 1 0 10.2 0a5.1 4.5 0 1 0 -10.2 0zM469 629.3a5.1 4.5 0 1 0 10.2 0a5.1 4.5 0 1 0 -10.2 0zM477.6 635.2a5.1 4.5 0 1 0 10.2 0a5.1 4.5 0 1 0 -10.2 0zM484.7 639.5a5.1 4.5 0 1 0 10.2 0a5.1 4.5 0 1 0 -10.2 0zM490.7 643.5a5.1 4.5 0 1 0 10.2 0a5.1 4.5 0 1 0 -10.2 0zM495.8 647a5.1 4.5 0 1 0 10.2 0a5.1 4.5 0 1 0 -10.2 0zM500.4 650.3a5.1 4.5 0 1 0 10.2 0a5.1 4.5 0 1 0 -10.2 0zM504.5 653.5a5.1 4.5 0 1 0 10.2 0a5.1 4.5 0 1 0 -10.2 0zM520.2 656.8a5.1 4.5 0 1 0 10.2 0a5.1 4.5 0 1 0 -10.2 0zM531.4 665.8a5.1 4.5 0 1 0 10.2 0a5.1 4.5 0 1 0 -10.2 0zM540 672.7a5.1 4.5 0 1 0 10.2 0a5.1 4.5 0 1 0 -10.2 0zM547.1 678.1a5.1 4.5 0 1 0 10.2 0a5.1 4.5 0 1 0 -10.2 0zM553.1 683.3a5.1 4.5 0 1 0 10.2 0a5.1 4.5 0 1 0 -10.2 0zM558.3 687.9a5.1 4.5 0 1 0 10.2 0a5.1 4.5 0 1 0 -10.2 0zM562.8 691.9a5.1 4.5 0 1 0 10.2 0a5.1 4.5 0 1 0 -10.2 0zM566.9 695.3a5.1 4.5 0 1 0 10.2 0a5.1 4.5 0 1 0 -10.2 0zM570.6 698.3a5.1 4.5 0 1 0 10.2 0a5.1 4.5 0 1 0 -10.2 0zM574 701.1a5.1 4.5 0 1 0 10.2 0a5.1 4.5 0 1 0 -10.2 0zM577.1 703.7a5.1 4.5 0 1 0 10.2 0a5.1 4.5 0 1 0 -10.2 0zM580 706a5.1 4.5 0 1 0 10.2 0a5.1 4.5 0 1 0 -10.2 0zM582.6 708a5.1 4.5 0 1 0 10.2 0a5.1 4.5 0 1 0 -10.2 0zM585.1 709.7a5.1 4.5 0 1 0 10.2 0a5.1 4.5 0 1 0 -10.2 0zM587.5 711.4a5.1 4.5 0 1 0 10.2 0a5.1 4.5 0 1 0 -10.2 0zM589.7 713a5.1 4.5 0 1 0 10.2 0a5.1 4.5 0 1 0 -10.2 0zM591.8 714.5a5.1 4.5 0 1 0 10.2 0a5.1 4.5 0 1 0 -10.2 0zM593.8 715.9a5.1 4.5 0 1 0 10.2 0a5.1 4.5 0 1 0 -10.2 0zM597.5 718.4a5.1 4.5 0 1 0 10.2 0a5.1 4.5 0 1 0 -10.2 0zM600.9 720.7a5.1 4.5 0 1 0 10.2 0a5.1 4.5 0 1 0 -10.2 0zM604 722.9a5.1 4.5 0 1 0 10.2 0a5.1 4.5 0 1 0 -10.2 0zM606.8 724.9a5.1 4.5 0 1 0 10.2 0a5.1 4.5 0 1 0 -10.2 0zM609.5 726.9a5.1 4.5 0 1 0 10.2 0a5.1 4.5 0 1 0 -10.2 0zM612 728.8a5.1 4.5 0 1 0 10.2 0a5.1 4.5 0 1 0 -10.2 0zM614.4 730.6a5.1 4.5 0 1 0 10.2 0a5.1 4.5 0 1 0 -10.2 0zM616.6 732.3a5.1 4.5 0 1 0 10.2 0a5.1 4.5 0 1 0 -10.2 0zM618.7 733.9a5.1 4.5 0 1 0 10.2 0a5.1 4.5 0 1 0 -10.2 0zM620.7 735.5a5.1 4.5 0 1 0 10.2 0a5.1 4.5 0 1 0 -10.2 0zM622.6 736.9a5.1 4.5 0 1 0 10.2 0a5.1 4.5 0 1 0 -10.2 0zM624.4 738.3a5.1 4.5 0 1 0 10.2 0a5.1 4.5 0 1 0 -10.2 0zM626.1 739.8a5.1 4.5 0 1 0 10.2 0a5.1 4.5 0 1 0 -10.2 0zM627.8 741.2a5.1 4.5 0 1 0 10.2 0a5.1 4.5 0 1 0 -10.2 0zM629.3 742.5a5.1 4.5 0 1 0 10.2 0a5.1 4.5 0 1 0 -10.2 0zM630.9 743.8a5.1 4.5 0 1 0 10.2 0a5.1 4.5 0 1 0 -10.2 0zM632.3 745a5.1 4.5 0 1 0 10.2 0a5.1 4.5 0 1 0 -10.2 0zM633.7 746.2a5.1 4.5 0 1 0 10.2 0a5.1 4.5 0 1 0 -10.2 0zM635.1 747.4a5.1 4.5 0 1 0 10.2 0a5.1 4.5 0 1 0 -10.2 0zM636.4 748.6a5.1 4.5 0 1 0 10.2 0a5.1 4.5 0 1 0 -10.2 0zM637.7 749.8a5.1 4.5 0 1 0 10.2 0a5.1 4.5 0 1 0 -10.2 0zM638.9 750.9a5.1 4.5 0 1 0 10.2 0a5.1 4.5 0 1 0 -10.2 0zM640.1 752.1a5.1 4.5 0 1 0 10.2 0a5.1 4.5 0 1 0 -10.2 0zM641.3 753.1a5.1 4.5 0 1 0 10.2 0a5.1 4.5 0 1 0 -10.2 0zM642.4 754.1a5.1 4.5 0 1 0 10.2 0a5.1 4.5 0 1 0 -10.2 0zM643.5 755.1a5.1 4.5 0 1 0 10.2 0a5.1 4.5 0 1 0 -10.2 0zM644.5 756.1a5.1 4.5 0 1 0 10.2 0a5.1 4.5 0 1 0 -10.2 0zM645.6 757a5.1 4.5 0 1 0 10.2 0a5.1 4.5 0 1 0 -10.2 0zM646.6 757.9a5.1 4.5 0 1 0 10.2 0a5.1 4.5 0 1 0 -10.2 0zM647.6 758.7a5.1 4.5 0 1 0 10.2 0a5.1 4.5 0 1 0 -10.2 0zM648.5 759.5a5.1 4.5 0 1 0 10.2 0a5.1 4.5 0 1 0 -10.2 0zM649.5 760.3a5.1 4.5 0 1 0 10.2 0a5.1 4.5 0 1 0 -10.2 0zM650.4 761a5.1 4.5 0 1 0 10.2 0a5.1 4.5 0 1 0 -10.2 0zM651.3 761.7a5.1 4.5 0 1 0 10.2 0a5.1 4.5 0 1 0 -10.2 0zM652.1 762.4a5.1 4.5 0 1 0 10.2 0a5.1 4.5 0 1 0 -10.2 0zM653 763.1a5.1 4.5 0 1 0 10.2 0a5.1 4.5 0 1 0 -10.2 0zM653.8 763.8a5.1 4.5 0 1 0 10.2 0a5.1 4.5 0 1 0 -10.2 0zM654.6 764.5a5.1 4.5 0 1 0 10.2 0a5.1 4.5 0 1 0 -10.2 0zM655.4 765.2a5.1 4.5 0 1 0 10.2 0a5.1 4.5 0 1 0 -10.2 0zM656.2 765.8a5.1 4.5 0 1 0 10.2 0a5.1 4.5 0 1 0 -10.2 0zM657 766.5a5.1 4.5 0 1 0 10.2 0a5.1 4.5 0 1 0 -10.2 0zM657.7 767.1a5.1 4.5 0 1 0 10.2 0a5.1 4.5 0 1 0 -10.2 0zM658.5 767.8a5.1 4.5 0 1 0 10.2 0a5.1 4.5 0 1 0 -10.2 0zM659.2 768.4a5.1 4.5 0 1 0 10.2 0a5.1 4.5 0 1 0 -10.2 0zM659.9 769a5.1 4.5 0 1 0 10.2 0a5.1 4.5 0 1 0 -10.2 0zM660.6 769.6a5.1 4.5 0 1 0 10.2 0a5.1 4.5 0 1 0 -10.2 0zM661.3 770.2a5.1 4.5 0 1 0 10.2 0a5.1 4.5 0 1 0 -10.2 0zM662 770.7a5.1 4.5 0 1 0 10.2 0a5.1 4.5 0 1 0 -10.2 0zM662.6 771.3a5.1 4.5 0 1 0 10.2 0a5.1 4.5 0 1 0 -10.2 0zM663.3 771.9a5.1 4.5 0 1 0 10.2 0a5.1 4.5 0 1 0 -10.2 0zM663.9 772.4a5.1 4.5 0 1 0 10.2 0a5.1 4.5 0 1 0 -10.2 0zM664.6 772.9a5.1 4.5 0 1 0 10.2 0a5.1 4.5 0 1 0 -10.2 0zM665.2 773.5a5.1 4.5 0 1 0 10.2 0a5.1 4.5 0 1 0 -10.2 0zM665.8 774a5.1 4.5 0 1 0 10.2 0a5.1 4.5 0 1 0 -10.2 0zM666.4 774.5a5.1 4.5 0 1 0 10.2 0a5.1 4.5 0 1 0 -10.2 0zM667 775a5.1 4.5 0 1 0 10.2 0a5.1 4.5 0 1 0 -10.2 0zM667.6 775.5a5.1 4.5 0 1 0 10.2 0a5.1 4.5 0 1 0 -10.2 0zM668.1 776a5.1 4.5 0 1 0 10.2 0a5.1 4.5 0 1 0 -10.2 0zM668.7 776.5a5.1 4.5 0 1 0 10.2 0a5.1 4.5 0 1 0 -10.2 0zM669.3 777a5.1 4.5 0 1 0 10.2 0a5.1 4.5 0 1 0 -10.2 0zM669.8 777.4a5.1 4.5 0 1 0 10.2 0a5.1 4.5 0 1 0 -10.2 0zM670.4 777.9a5.1 4.5 0 1 0 10.2 0a5.1 4.5 0 1 0 -10.2 0zM670.9 778.3a5.1 4.5 0 1 0 10.2 0a5.1 4.5 0 1 0 -10.2 0zM671.4 778.8a5.1 4.5 0 1 0 10.2 0a5.1 4.5 0 1 0 -10.2 0zM671.9 779.2a5.1 4.5 0 1 0 10.2 0a5.1 4.5 0 1 0 -10.2 0zM672.5 779.7a5.1 4.5 0 1 0 10.2 0a5.1 4.5 0 1 0 -10.2 0zM673 780.1a5.1 4.5 0 1 0 10.2 0a5.1 4.5 0 1 0 -10.2 0zM673.5 780.5a5.1 4.5 0 1 0 10.2 0a5.1 4.5 0 1 0 -10.2 0zM674 780.9a5.1 4.5 0 1 0 10.2 0a5.1 4.5 0 1 0 -10.2 0zM674.4 781.4a5.1 4.5 0 1 0 10.2 0a5.1 4.5 0 1 0 -10.2 0z"/>
<path fill="#1c6ee0" d="M116.9 472.2l6.1 9.1h-12.2zM125.5 472.1l6.1 9.1h-12.2zM132.6 476.6l6.1 9.1h-12.2zM138.6 476.8l6.1 9.1h-12.2zM143.7 474.9l6.1 9.1h-12.2zM148.3 478.3l6.1 9.1h-12.2zM152.4 480.8l6.1 9.1h-12.2zM179.3 487.8l6.1 9.1h-12.2zM195 497.9l6.1 9.1h-12.2zM206.2 500.2l6.1 9.1h-12.2zM227.9 508.4l6.1 9.1h-12.2zM233 511.3l6.1 9.1h-12.2zM237.6 514.2l6.1 9.1h-12.2zM241.7 517.7l6.1 9.1h-12.2zM284.3 528l6.1 9.1h-12.2zM295.5 535.2l6.1 9.1h-12.2zM304.1 540.1l6.1 9.1h-12.2zM311.2 543.7l6.1 9.1h-12.2zM317.2 546.7l6.1 9.1h-12.2zM322.3 549.1l6.1 9.1h-12.2zM326.9 551.5l6.1 9.1h-12.2zM331 553.6l6.1 9.1h-12.2zM357.9 554.8l6.1 9.1h-12.2zM373.6 567.9l6.1 9.1h-12.2zM384.8 575.5l6.1 9.1h-12.2zM393.4 581.2l6.1 9.1h-12.2zM400.5 585.2l6.1 9.1h-12.2zM406.5 588.9l6.1 9.1h-12.2zM411.6 591.9l6.1 9.1h-12.2zM416.2 594.2l6.1 9.1h-12.2zM420.3 596.6l6.1 9.1h-12.2zM447.2 598.4l6.1 9.1h-12.2zM462.9 611.5l6.1 9.1h-12.2zM474.1 619.6l6.1 9.1h-12.2zM482.7 625.7l6.1 9.1h-12.2zM489.8 629.8l6.1 9.1h-12.2zM495.8 633.7l6.1 9.1h-12.2zM500.9 636.8l6.1 9.1h-12.2zM505.5 639.7l6.1 9.1h-12.2zM509.6 642.4l6.1 9.1h-12.2zM525.3 644.7l6.1 9.1h-12.2zM536.5 654.1l6.1 9.1h-12.2zM545.1 660.8l6.1 9.1h-12.2zM552.2 666.3l6.1 9.1h-12.2zM558.2 670.7l6.1 9.1h-12.2zM563.4 674.4l6.1 9.1h-12.2zM567.9 678.3l6.1 9.1h-12.2zM572 681.5l6.1 9.1h-12.2zM575.7 684.2l6.1 9.1h-12.2zM579.1 686.7l6.1 9.1h-12.2zM582.2 689l6.1 9.1h-12.2zM585.1 691.1l6.1 9.1h-12.2zM587.7 693.1l6.1 9.1h-12.2zM590.2 694.9l6.1 9.1h-12.2zM592.6 696.6l6.1 9.1h-12.2zM594.8 698.2l6.1 9.1h-12.2zM596.9 699.7l6.1 9.1h-12.2zM598.9 701.2l6.1 9.1h-12.2zM602.6 703.8l6.1 9.1h-12.2zM606 706.3l6.1 9.1h-12.2zM609.1 708.6l6.1 9.1h-12.2zM611.9 710.8l6.1 9.1h-12.2zM614.6 712.8l6.1 9.1h-12.2zM617.1 714.6l6.1 9.1h-12.2zM619.5 716.4l6.1 9.1h-12.2zM621.7 718l6.1 9.1h-12.2zM623.8 719.5l6.1 9.1h-12.2zM625.8 721l6.1 9.1h-12.2zM627.7 722.3l6.1 9.1h-12.2zM629.5 723.7l6.1 9.1h-12.2zM631.2 725l6.1 9.1h-12.2zM632.9 726.3l6.1 9.1h-12.2zM634.4 727.6l6.1 9.1h-12.2zM636 728.8l6.1 9.1h-12.2zM637.4 730l6.1 9.1h-12.2zM638.8 731.1l6.1 9.1h-12.2zM640.2 732.2l6.1 9.1h-12.2zM641.5 733.3l6.1 9.1h-12.2zM642.8 734.1l6.1 9.1h-12.2zM644 734.8l6.1 9.1h-12.2zM645.2 735.6l6.1 9.1h-12.2zM646.4 736.3l6.1 9.1h-12.2zM647.5 737l6.1 9.1h-12.2zM648.6 737.9l6.1 9.1h-12.2zM649.6 739.2l6.1 9.1h-12.2zM650.7 740.5l6.1 9.1h-12.2zM651.7 741.7l6.1 9.1h-12.2zM652.7 742.9l6.1 9.1h-12.2zM653.6 744.1l6.1 9.1h-12.2zM654.6 745.2l6.1 9.1h-12.2zM655.5 746.2l6.1 9.1h-12.2zM656.4 747l6.1 9.1h-12.2zM657.2 747.8l6.1 9.1h-12.2zM658.1 748.6l6.1 9.1h-12.2zM658.9 749.3l6.1 9.1h-12.2zM659.7 750.1l6.1 9.1h-12.2zM660.5 750.8l6.1 9.1h-12.2zM661.3 751.5l6.1 9.1h-12.2zM662.1 752.2l6.1 9.1h-12.2zM662.8 752.9l6.1 9.1h-12.2zM663.6 753.6l6.1 9.1h-12.2zM664.3 754.3l6.1 9.1h-12.2zM665 754.9l6.1 9.1h-12.2zM665.7 755.6l6.1 9.1h-12.2zM666.4 756.2l6.1 9.1h-12.2zM667.1 756.8l6.1 9.1h-12.2zM667.7 757.4l6.1 9.1h-12.2zM668.4 758.1l6.1 9.1h-12.2zM669 758.7l6.1 9.1h-12.2zM669.7 759.3l6.1 9.1h-12.2zM670.3 759.9l6.1 9.1h-12.2zM670.9 760.5l6.1 9.1h-12.2zM671.5 761l6.1 9.1h-12.2zM672.1 761.6l6.1 9.1h-12.2zM672.7 762.1l6.1 9.1h-12.2zM673.2 762.7l6.1 9.1h-12.2zM673.8 763.2l6.1 9.1h-12.2zM674.4 763.8l6.1 9.1h-12.2zM674.9 764.3l6.1 9.1h-12.2zM675.5 764.8l6.1 9.1h-12.2zM676 765.3l6.1 9.1h-12.2zM676.5 765.8l6.1 9.1h-12.2zM677 766.3l6.1 9.1h-12.2zM677.6 766.8l6.1 9.1h-12.2zM678.1 767.3l6.1 9.1h-12.2zM678.6 767.8l6.1 9.1h-12.2zM679.1 768.2l6.1 9.1h-12.2zM679.5 768.7l6.1 9.1h-12.2z"/>
<path fill="#38aa6a" d="M116.9 616.2l6.1 -9.1h-12.2zM125.5 616.5l6.1 -9.1h-12.2zM132.6 616.9l6.1 -9.1h-12.2zM138.6 617.2l6.1 -9.1h-12.2zM143.7 617.5l6.1 -9.1h-12.2zM148.3 617.8l6.1 -9.1h-12.2zM152.4 618.1l6.1 -9.1h-12.2zM179.3 620.8l6.1 -9.1h-12.2zM195 622.1l6.1 -9.1h-12.2zM206.2 623.2l6.1 -9.1h-12.2zM221.9 627.5l6.1 -9.1h-12.2zM227.9 625.4l6.1 -9.1h-12.2zM233 625.9l6.1 -9.1h-12.2zM237.6 626.5l6.1 -9.1h-12.2zM241.7 627.1l6.1 -9.1h-12.2zM268.6 627.3l6.1 -9.1h-12.2zM284.3 631.9l6.1 -9.1h-12.2zM295.5 635.2l6.1 -9.1h-12.2zM304.1 637.3l6.1 -9.1h-12.2zM311.2 639l6.1 -9.1h-12.2zM317.2 640.6l6.1 -9.1h-12.2zM322.3 641.6l6.1 -9.1h-12.2zM326.9 642.8l6.1 -9.1h-12.2zM331 643.9l6.1 -9.1h-12.2zM357.9 644.9l6.1 -9.1h-12.2zM373.6 652l6.1 -9.1h-12.2zM384.8 656.8l6.1 -9.1h-12.2zM393.4 660.1l6.1 -9.1h-12.2zM400.5 662.5l6.1 -9.1h-12.2zM406.5 665l6.1 -9.1h-12.2zM411.6 666.9l6.1 -9.1h-12.2zM416.2 668.8l6.1 -9.1h-12.2zM420.3 670.1l6.1 -9.1h-12.2zM447.2 671.1l6.1 -9.1h-12.2zM462.9 681l6.1 -9.1h-12.2zM474.1 687l6.1 -9.1h-12.2zM482.7 691.4l6.1 -9.1h-12.2zM489.8 695l6.1 -9.1h-12.2zM495.8 698.1l6.1 -9.1h-12.2zM500.9 700.6l6.1 -9.1h-12.2zM505.5 703l6.1 -9.1h-12.2zM509.6 705.2l6.1 -9.1h-12.2zM525.3 707.1l6.1 -9.1h-12.2zM536.5 714.9l6.1 -9.1h-12.2zM545.1 720.8l6.1 -9.1h-12.2zM552.2 725.3l6.1 -9.1h-12.2zM558.2 729.1l6.1 -9.1h-12.2zM563.4 732.5l6.1 -9.1h-12.2zM567.9 735.4l6.1 -9.1h-12.2zM572 738.3l6.1 -9.1h-12.2zM575.7 740.9l6.1 -9.1h-12.2zM579.1 743.3l6.1 -9.1h-12.2zM582.2 745.5l6.1 -9.1h-12.2zM585.1 747.5l6.1 -9.1h-12.2zM587.7 749.3l6.1 -9.1h-12.2zM590.2 751l6.1 -9.1h-12.2zM592.6 752.6l6.1 -9.1h-12.2zM594.8 754.1l6.1 -9.1h-12.2zM596.9 755.6l6.1 -9.1h-12.2zM598.9 757l6.1 -9.1h-12.2zM602.6 759.9l6.1 -9.1h-12.2zM606 762.4l6.1 -9.1h-12.2zM609.1 764.8l6.1 -9.1h-12.2zM611.9 767l6.1 -9.1h-12.2zM614.6 769l6.1 -9.1h-12.2zM617.1 770.8l6.1 -9.1h-12.2zM619.5 772.4l6.1 -9.1h-12.2zM621.7 774l6.1 -9.1h-12.2zM623.8 775.5l6.1 -9.1h-12.2zM625.8 776.9l6.1 -9.1h-12.2zM627.7 778.2l6.1 -9.1h-12.2zM629.5 779.5l6.1 -9.1h-12.2zM631.2 780.7l6.1 -9.1h-12.2zM632.9 781.8l6.1 -9.1h-12.2zM634.4 782.9l6.1 -9.1h-12.2zM636 784l6.1 -9.1h-12.2zM637.4 785l6.1 -9.1h-12.2zM638.8 786l6.1 -9.1h-12.2zM640.2 786.9l6.1 -9.1h-12.2zM641.5 787.9l6.1 -9.1h-12.2zM642.8 788.7l6.1 -9.1h-12.2zM644 789.6l6.1 -9.1h-12.2zM645.2 790.5l6.1 -9.1h-12.2zM646.4 791.4l6.1 -9.1h-12.2zM647.5 792.3l6.1 -9.1h-12.2zM648.6 793.2l6.1 -9.1h-12.2zM649.6 794.1l6.1 -9.1h-12.2zM650.7 794.9l6.1 -9.1h-12.2zM651.7 795.7l6.1 -9.1h-12.2zM652.7 796.5l6.1 -9.1h-12.2zM653.6 797.2l6.1 -9.1h-12.2zM654.6 798l6.1 -9.1h-12.2zM655.5 798.7l6.1 -9.1h-12.2zM656.4 799.4l6.1 -9.1h-12.2zM657.2 800.1l6.1 -9.1h-12.2zM658.1 800.8l6.1 -9.1h-12.2zM658.9 801.5l6.1 -9.1h-12.2zM659.7 802.1l6.1 -9.1h-12.2zM660.5 802.7l6.1 -9.1h-12.2zM661.3 803.3l6.1 -9.1h-12.2zM662.1 803.9l6.1 -9.1h-12.2zM662.8 804.4l6.1 -9.1h-12.2zM663.6 805l6.1 -9.1h-12.2zM664.3 805.5l6.1 -9.1h-12.2zM665 806.1l6.1 -9.1h-12.2zM665.7 806.6l6.1 -9.1h-12.2zM666.4 807.1l6.1 -9.1h-12.2zM667.1 807.6l6.1 -9.1h-12.2zM667.7 808.1l6.1 -9.1h-12.2zM668.4 808.6l6.1 -9.1h-12.2zM669 809.1l6.1 -9.1h-12.2zM669.7 809.6l6.1 -9.1h-12.2zM670.3 810l6.1 -9.1h-12.2zM670.9 810.5l6.1 -9.1h-12.2zM671.5 810.9l6.1 -9.1h-12.2zM672.1 811.4l6.1 -9.1h-12.2zM672.7 811.8l6.1 -9.1h-12.2zM673.2 812.3l6.1 -9.1h-12.2zM673.8 812.7l6.1 -9.1h-12.2zM674.4 813.1l6.1 -9.1h-12.2zM674.9 813.7l6.1 -9.1h-12.2zM675.5 814.3l6.1 -9.1h-12.2zM676 814.8l6.1 -9.1h-12.2zM676.5 815.4l6.1 -9.1h-12.2zM677 815.9l6.1 -9.1h-12.2zM677.6 816.5l6.1 -9.1h-12.2zM678.1 817l6.1 -9.1h-12.2zM678.6 817.6l6.1 -9.1h-12.2zM679.1 818.1l6.1 -9.1h-12.2zM679.5 818.6l6.1 -9.1h-12.2z"/>
</g>
<path d="M63 466V882.9H685" fill="none" stroke="#1c1c1c" stroke-width="2.0"/>
<path d="M63 882.9h-7.8M63 862.5h-4.3M63 850.6h-4.3M63 842.2h-4.3M63 835.6h-4.3M63 830.2h-4.3M63 825.7h-4.3M63 821.8h-4.3M63 818.3h-4.3M63 815.2h-7.8M63 794.9h-4.3M63 782.9h-4.3M63 774.5h-4.3M63 767.9h-4.3M63 762.6h-4.3M63 758h-4.3M63 754.1h-4.3M63 750.7h-4.3M63 747.6h-7.8M63 727.2h-4.3M63 715.3h-4.3M63 706.8h-4.3M63 700.3h-4.3M63 694.9h-4.3M63 690.4h-4.3M63 686.4h-4.3M63 683h-4.3M63 679.9h-7.8M63 659.5h-4.3M63 647.6h-4.3M63 639.1h-4.3M63 632.6h-4.3M63 627.2h-4.3M63 622.7h-4.3M63 618.8h-4.3M63 615.3h-4.3M63 612.2h-7.8M63 591.8h-4.3M63 579.9h-4.3M63 571.5h-4.3M63 564.9h-4.3M63 559.6h-4.3M63 555h-4.3M63 551.1h-4.3M63 547.6h-4.3M63 544.5h-7.8M63 524.2h-4.3M63 512.3h-4.3M63 503.8h-4.3M63 497.3h-4.3M63 491.9h-4.3M63 487.4h-4.3M63 483.4h-4.3M63 480h-4.3M63 476.9h-7.8M63 882.9v6.3M89.9 882.9v3.5M105.6 882.9v3.5M116.8 882.9v3.5M125.4 882.9v3.5M132.5 882.9v3.5M138.5 882.9v3.5M143.6 882.9v3.5M148.2 882.9v3.5M152.3 882.9v6.3M179.2 882.9v3.5M194.9 882.9v3.5M206.1 882.9v3.5M214.7 882.9v3.5M221.8 882.9v3.5M227.8 882.9v3.5M232.9 882.9v3.5M237.5 882.9v3.5M241.6 882.9v6.3M268.5 882.9v3.5M284.2 882.9v3.5M295.4 882.9v3.5M304 882.9v3.5M311.1 882.9v3.5M317.1 882.9v3.5M322.2 882.9v3.5M326.8 882.9v3.5M330.9 882.9v6.3M357.8 882.9v3.5M373.5 882.9v3.5M384.7 882.9v3.5M393.3 882.9v3.5M400.4 882.9v3.5M406.4 882.9v3.5M411.5 882.9v3.5M416.1 882.9v3.5M420.2 882.9v6.3M447.1 882.9v3.5M462.8 882.9v3.5M474 882.9v3.5M482.6 882.9v3.5M489.7 882.9v3.5M495.7 882.9v3.5M500.8 882.9v3.5M505.4 882.9v3.5M509.5 882.9v6.3M536.4 882.9v3.5M552.1 882.9v3.5M563.3 882.9v3.5M571.9 882.9v3.5M579 882.9v3.5M585 882.9v3.5M590.1 882.9v3.5M594.7 882.9v3.5M598.8 882.9v6.3M625.7 882.9v3.5M641.4 882.9v3.5M652.6 882.9v3.5M661.2 882.9v3.5M668.3 882.9v3.5M674.3 882.9v3.5M679.4 882.9v3.5M684 882.9v3.5" fill="none" stroke="#1c1c1c" stroke-width="1.5"/>
<text transform="translate(47 392.5) scale(1.22 1)" font-size="15.0" text-anchor="end">10</text>
<text transform="translate(54.2 386.4) scale(1.12 1)" font-size="10.6" text-anchor="end">2</text>
<text transform="translate(47 338.4) scale(1.22 1)" font-size="15.0" text-anchor="end">10</text>
<text transform="translate(54.2 332.3) scale(1.12 1)" font-size="10.6" text-anchor="end">3</text>
<text transform="translate(47 284.3) scale(1.22 1)" font-size="15.0" text-anchor="end">10</text>
<text transform="translate(54.2 278.2) scale(1.12 1)" font-size="10.6" text-anchor="end">4</text>
<text transform="translate(47 230.2) scale(1.22 1)" font-size="15.0" text-anchor="end">10</text>
<text transform="translate(54.2 224.1) scale(1.12 1)" font-size="10.6" text-anchor="end">5</text>
<text transform="translate(47 176.1) scale(1.22 1)" font-size="15.0" text-anchor="end">10</text>
<text transform="translate(54.2 170) scale(1.12 1)" font-size="10.6" text-anchor="end">6</text>
<text transform="translate(47 122) scale(1.22 1)" font-size="15.0" text-anchor="end">10</text>
<text transform="translate(54.2 115.9) scale(1.12 1)" font-size="10.6" text-anchor="end">7</text>
<text transform="translate(47 67.9) scale(1.22 1)" font-size="15.0" text-anchor="end">10</text>
<text transform="translate(54.2 61.8) scale(1.12 1)" font-size="10.6" text-anchor="end">8</text>
<text transform="translate(47 13.8) scale(1.22 1)" font-size="15.0" text-anchor="end">10</text>
<text transform="translate(54.2 7.7) scale(1.12 1)" font-size="10.6" text-anchor="end">9</text>
<text transform="translate(76.4 412.8) scale(1.22 1)" font-size="15.0" text-anchor="end">10</text>
<text transform="translate(83.4 406.6) scale(1.12 1)" font-size="10.6" text-anchor="end">0</text>
<text transform="translate(164.2 412.8) scale(1.22 1)" font-size="15.0" text-anchor="end">10</text>
<text transform="translate(171.2 406.6) scale(1.12 1)" font-size="10.6" text-anchor="end">1</text>
<text transform="translate(252 412.8) scale(1.22 1)" font-size="15.0" text-anchor="end">10</text>
<text transform="translate(259 406.6) scale(1.12 1)" font-size="10.6" text-anchor="end">2</text>
<text transform="translate(339.8 412.8) scale(1.22 1)" font-size="15.0" text-anchor="end">10</text>
<text transform="translate(346.8 406.6) scale(1.12 1)" font-size="10.6" text-anchor="end">3</text>
<text transform="translate(427.6 412.8) scale(1.22 1)" font-size="15.0" text-anchor="end">10</text>
<text transform="translate(434.6 406.6) scale(1.12 1)" font-size="10.6" text-anchor="end">4</text>
<text transform="translate(515.4 412.8) scale(1.22 1)" font-size="15.0" text-anchor="end">10</text>
<text transform="translate(522.4 406.6) scale(1.12 1)" font-size="10.6" text-anchor="end">5</text>
<text transform="translate(603.2 412.8) scale(1.22 1)" font-size="15.0" text-anchor="end">10</text>
<text transform="translate(610.2 406.6) scale(1.12 1)" font-size="10.6" text-anchor="end">6</text>
<text transform="translate(43.8 889.1) scale(1.1 1)" font-size="15.7" text-anchor="end">10</text>
<text transform="translate(49.7 882.7) scale(1.0 1)" font-size="10.6" text-anchor="end">3</text>
<text transform="translate(43.8 821.4) scale(1.1 1)" font-size="15.7" text-anchor="end">10</text>
<text transform="translate(49.7 815) scale(1.0 1)" font-size="10.6" text-anchor="end">4</text>
<text transform="translate(43.8 753.8) scale(1.1 1)" font-size="15.7" text-anchor="end">10</text>
<text transform="translate(49.7 747.4) scale(1.0 1)" font-size="10.6" text-anchor="end">5</text>
<text transform="translate(43.8 686.1) scale(1.1 1)" font-size="15.7" text-anchor="end">10</text>
<text transform="translate(49.7 679.7) scale(1.0 1)" font-size="10.6" text-anchor="end">6</text>
<text transform="translate(43.8 618.4) scale(1.1 1)" font-size="15.7" text-anchor="end">10</text>
<text transform="translate(49.7 612) scale(1.0 1)" font-size="10.6" text-anchor="end">7</text>
<text transform="translate(43.8 550.8) scale(1.1 1)" font-size="15.7" text-anchor="end">10</text>
<text transform="translate(49.7 544.4) scale(1.0 1)" font-size="10.6" text-anchor="end">8</text>
<text transform="translate(43.8 483.1) scale(1.1 1)" font-size="15.7" text-anchor="end">10</text>
<text transform="translate(49.7 476.7) scale(1.0 1)" font-size="10.6" text-anchor="end">9</text>
<text transform="translate(69.9 909.3) scale(1.1 1)" font-size="15.7" text-anchor="end">10</text>
<text transform="translate(76.2 903.3) scale(1.0 1)" font-size="10.6" text-anchor="end">0</text>
<text transform="translate(159.2 909.3) scale(1.1 1)" font-size="15.7" text-anchor="end">10</text>
<text transform="translate(165.5 903.3) scale(1.0 1)" font-size="10.6" text-anchor="end">1</text>
<text transform="translate(248.5 909.3) scale(1.1 1)" font-size="15.7" text-anchor="end">10</text>
<text transform="translate(254.8 903.3) scale(1.0 1)" font-size="10.6" text-anchor="end">2</text>
<text transform="translate(337.8 909.3) scale(1.1 1)" font-size="15.7" text-anchor="end">10</text>
<text transform="translate(344.1 903.3) scale(1.0 1)" font-size="10.6" text-anchor="end">3</text>
<text transform="translate(427.1 909.3) scale(1.1 1)" font-size="15.7" text-anchor="end">10</text>
<text transform="translate(433.4 903.3) scale(1.0 1)" font-size="10.6" text-anchor="end">4</text>
<text transform="translate(516.4 909.3) scale(1.1 1)" font-size="15.7" text-anchor="end">10</text>
<text transform="translate(522.7 903.3) scale(1.0 1)" font-size="10.6" text-anchor="end">5</text>
<text transform="translate(605.7 909.3) scale(1.1 1)" font-size="15.7" text-anchor="end">10</text>
<text transform="translate(612 903.3) scale(1.0 1)" font-size="10.6" text-anchor="end">6</text>
<text transform="translate(375.4 439.1) scale(1.29 1)" font-size="18" text-anchor="middle">Frequncy (Hz)</text>
<text transform="translate(373.6 936.1) scale(1.1 1)" font-size="19" text-anchor="middle">Frequncy (Hz)</text>
<text transform="translate(16.8 197.4) scale(1.26 1.05) rotate(-90)" font-size="18" text-anchor="middle">Z' (&#937;)</text>
<text transform="translate(16.0 675.2) scale(1.12 1.02) rotate(-90)" font-size="19" text-anchor="middle">Z'' (&#937;)</text>
<text transform="translate(402.1 66) scale(1.27 1)" font-size="19.5" text-anchor="middle">(a)</text>
<text transform="translate(484.3 523.6) scale(1.115 1)" font-size="20" text-anchor="middle">(b)</text>
<path fill="#4d4d4d" d="M578 32.6h9.5v7.3h-9.5z"/>
<path fill="#ee3b3f" d="M577.4 56.9a5.4 4.5 0 1 0 10.8 0a5.4 4.5 0 1 0 -10.8 0z"/>
<path fill="#1c6ee0" d="M582.8 71.7l6.5 9.1h-12.9z"/>
<path fill="#38aa6a" d="M582.8 104.1l6.5 -9.1h-12.9z"/>
<text transform="translate(612.1 42) scale(1.3 1)" font-size="16" text-anchor="start">Cu1</text>
<text transform="translate(612.1 62.6) scale(1.3 1)" font-size="16" text-anchor="start">Cu2</text>
<text transform="translate(612.1 83.3) scale(1.3 1)" font-size="16" text-anchor="start">Cu3</text>
<text transform="translate(612.1 104) scale(1.3 1)" font-size="16" text-anchor="start">Cu5</text>
<path fill="#4d4d4d" d="M591.6 509.1h8.5v8.2h-8.5z"/>
<path fill="#ee3b3f" d="M590.8 534.4a5.1 4.5 0 1 0 10.2 0a5.1 4.5 0 1 0 -10.2 0z"/>
<path fill="#1c6ee0" d="M595.9 549.5l6.1 9.1h-12.2z"/>
<path fill="#38aa6a" d="M595.9 582.2l6.1 -9.1h-12.2z"/>
<text transform="translate(621.9 518.5) scale(1.17 1)" font-size="16.3" text-anchor="start">CU1</text>
<text transform="translate(621.9 539.5) scale(1.17 1)" font-size="16.3" text-anchor="start">Cu2</text>
<text transform="translate(621.9 560.6) scale(1.17 1)" font-size="16.3" text-anchor="start">Cu3</text>
<text transform="translate(621.9 581.8) scale(1.17 1)" font-size="16.3" text-anchor="start">Cu5</text>
</svg>
</body></html>
